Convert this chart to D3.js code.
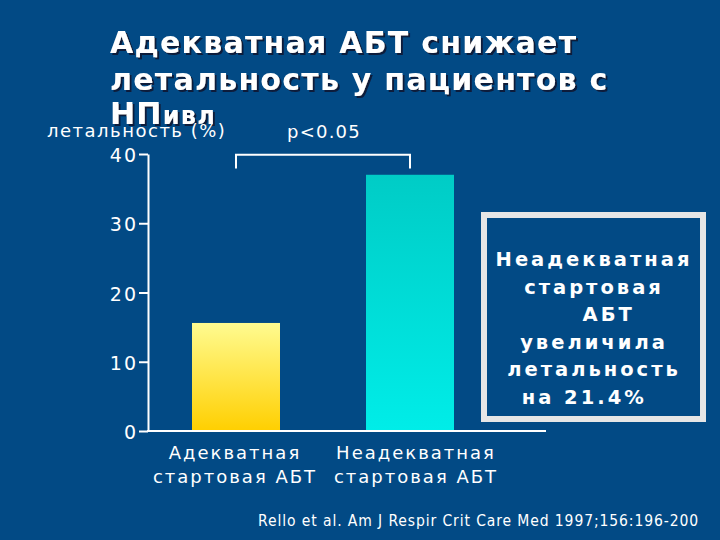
<!DOCTYPE html>
<html>
<head>
<meta charset="utf-8">
<script src="https://cdn.jsdelivr.net/npm/d3@7"></script>
<style>
  body { margin: 0; background: #024a85; }
  svg { display: block; }
</style>
</head>
<body>
<svg id="chart"></svg>
<script>
var categories = [["Адекватная", "стартовая АБТ"], ["Неадекватная", "стартовая АБТ"]];
var mortality = [15.6, 37.0];
var yTicks = [0, 10, 20, 30, 40];
var titleLines = ["Адекватная АБТ снижает", "летальность у пациентов с"];
var boxLines = ["Неадекватная", "стартовая", "   АБТ", "увеличила", "летальность", "на 21.4%  "];
var yLabel = "летальность (%)";
var pLabel = "p<0.05";
var citation = "Rello et al. Am J Respir Crit Care Med 1997;156:196-200";

var W = 720, H = 540;
var svg = d3.select("#chart").attr("width", W).attr("height", H);

svg.append("rect").attr("width", W).attr("height", H).attr("fill", "#024a85");

var defs = svg.append("defs");
var grads = [["gYellow", "#fffb90", "#ffcf00"], ["gCyan", "#00ccc6", "#00ede8"]];
grads.forEach(function(g) {
  var lg = defs.append("linearGradient").attr("id", g[0])
    .attr("x1", 0).attr("y1", 0).attr("x2", 0).attr("y2", 1);
  lg.append("stop").attr("offset", "0%").attr("stop-color", g[1]);
  lg.append("stop").attr("offset", "100%").attr("stop-color", g[2]);
});
defs.append("filter").attr("id", "shadow")
  .attr("x", "-5%").attr("y", "-10%").attr("width", "110%").attr("height", "130%")
  .append("feDropShadow")
    .attr("dx", 2).attr("dy", 2).attr("stdDeviation", 0.4)
    .attr("flood-color", "#0d1c3a").attr("flood-opacity", 1);

// title with shadow
var title = svg.append("text")
  .attr("fill", "#ffffff")
  .attr("font-family", "DejaVu Sans")
  .attr("font-weight", "bold")
  .attr("font-size", 30)
  .attr("letter-spacing", 1.25)
  .attr("filter", "url(#shadow)");
titleLines.forEach(function(t, i) {
  title.append("tspan").attr("x", 110).attr("y", 53 + i * 37).text(t);
});
title.append("tspan").attr("x", 110).attr("y", 124).text("НП");
title.append("tspan").attr("font-size", 24).text("ивл");

// scales
var y = d3.scaleLinear().domain([0, 40]).range([431, 154]);
var x = d3.scalePoint().domain(d3.range(categories.length)).range([236, 410]);
var xLabel = d3.scalePoint().domain(d3.range(categories.length)).range([234, 415]);
var barW = 88;

// bars
svg.selectAll("rect.bar")
  .data(mortality)
  .enter().append("rect")
    .attr("class", "bar")
    .attr("x", function(d, i) { return x(i) - barW / 2; })
    .attr("y", function(d) { return y(d); })
    .attr("width", barW)
    .attr("height", function(d) { return y(0) - y(d); })
    .attr("fill", function(d, i) { return "url(#" + grads[i][0] + ")"; });

// y axis
var yAxis = svg.append("g")
  .attr("transform", "translate(148,0)")
  .call(d3.axisLeft(y).tickValues(yTicks).tickSize(9).tickSizeOuter(0).tickPadding(1));
yAxis.select(".domain").attr("stroke", "#ffffff").attr("stroke-width", 2);
yAxis.selectAll(".tick line").attr("stroke", "#ffffff").attr("stroke-width", 2);
yAxis.selectAll(".tick text")
  .attr("fill", "#ffffff")
  .attr("font-family", "DejaVu Sans")
  .attr("font-size", 19)
  .attr("letter-spacing", 2)
  .attr("dy", "0.4em");

// x baseline
svg.append("line")
  .attr("x1", 147).attr("x2", 546)
  .attr("y1", y(0)).attr("y2", y(0))
  .attr("stroke", "#ffffff").attr("stroke-width", 2);

// category labels
categories.forEach(function(c, i) {
  var t = svg.append("text")
    .attr("text-anchor", "middle")
    .attr("fill", "#ffffff")
    .attr("font-family", "DejaVu Sans")
    .attr("font-size", 18)
    .attr("letter-spacing", 2);
  c.forEach(function(line, j) {
    t.append("tspan").attr("x", xLabel(i) + 1).attr("y", 459 + j * 24).text(line);
  });
});

// y label
svg.append("text")
  .attr("x", 47).attr("y", 137)
  .attr("fill", "#ffffff")
  .attr("font-family", "DejaVu Sans")
  .attr("font-size", 18)
  .attr("letter-spacing", 1.5)
  .text(yLabel);

// significance bracket
svg.append("path")
  .attr("d", "M" + x(0) + "," + y(37.9) + "V" + y(39.9) + "H" + x(1) + "V" + y(37.9))
  .attr("fill", "none")
  .attr("stroke", "#ffffff")
  .attr("stroke-width", 2);
svg.append("text")
  .attr("x", (x(0) + x(1)) / 2 + 1).attr("y", 138)
  .attr("text-anchor", "middle")
  .attr("fill", "#ffffff")
  .attr("font-family", "DejaVu Sans")
  .attr("font-size", 18)
  .attr("letter-spacing", 1.2)
  .text(pLabel);

// annotation box
svg.append("rect")
  .attr("x", 484).attr("y", 215)
  .attr("width", 219).attr("height", 204)
  .attr("fill", "none")
  .attr("stroke", "#e6e6e6")
  .attr("stroke-width", 6);
var bt = svg.append("text")
  .attr("text-anchor", "middle")
  .attr("fill", "#ffffff")
  .attr("font-family", "DejaVu Sans")
  .attr("font-weight", "bold")
  .attr("font-size", 19.5)
  .attr("letter-spacing", 3)
  .style("white-space", "pre");
boxLines.forEach(function(line, i) {
  bt.append("tspan").attr("x", 594).attr("y", 266 + i * 27.6).text(line);
});

// citation
svg.append("text")
  .attr("x", 699).attr("y", 526)
  .attr("text-anchor", "end")
  .attr("fill", "#ffffff")
  .attr("font-family", "DejaVu Sans Condensed, DejaVu Sans")
  .attr("font-stretch", "condensed")
  .attr("font-size", 15.5)
  .attr("letter-spacing", 0.9)
  .text(citation);
</script>
</body>
</html>
